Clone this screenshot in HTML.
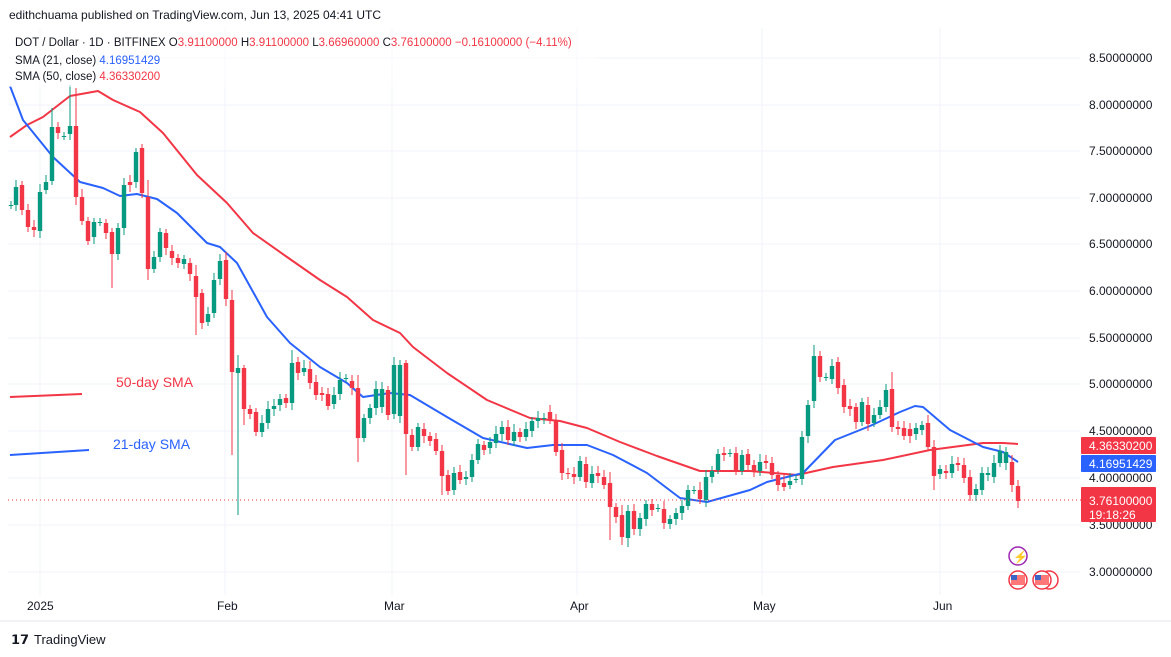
<!DOCTYPE html>
<html><head><meta charset="utf-8"><style>
body{margin:0;background:#fff;width:1171px;height:657px;overflow:hidden;font-family:"Liberation Sans",sans-serif}
svg{position:absolute;left:0;top:0}
</style></head><body>
<svg id="s" width="1171" height="657" xmlns="http://www.w3.org/2000/svg" font-family="Liberation Sans, sans-serif">
<text x="9" y="19" font-size="12" fill="#131722">edithchuama published on TradingView.com, Jun 13, 2025 04:41 UTC</text>
<g id="grid" stroke="#f0f3fa" stroke-width="1"></g>
<g id="sma"></g>
<g id="c"></g>
<line x1="8" y1="500" x2="1082" y2="500" stroke="#f23645" stroke-width="1" stroke-dasharray="1,3"/>
<polyline points="10,397 82,394" fill="none" stroke="#f23645" stroke-width="2"/>
<polyline points="10,455 89,450" fill="none" stroke="#2962ff" stroke-width="2"/>
<text x="116" y="387" font-size="14" fill="#f23645">50-day SMA</text>
<text x="113" y="449" font-size="14" fill="#2962ff">21-day SMA</text>
<rect x="8" y="29" width="590" height="58" fill="#fff" opacity="0.6"/>
<text x="15" y="46" font-size="11.5" fill="#131722">DOT / Dollar · 1D · BITFINEX  <tspan>O</tspan><tspan fill="#f23645">3.91100000</tspan> H<tspan fill="#f23645">3.91100000</tspan> L<tspan fill="#f23645">3.66960000</tspan> C<tspan fill="#f23645">3.76100000 −0.16100000 (−4.11%)</tspan></text>
<text x="15" y="64" font-size="11.5" fill="#131722">SMA (21, close)  <tspan fill="#2962ff">4.16951429</tspan></text>
<text x="15" y="80" font-size="11.5" fill="#131722">SMA (50, close)  <tspan fill="#f23645">4.36330200</tspan></text>
<g id="ax" font-size="12" fill="#131722"></g>
<rect x="1081" y="437" width="75" height="17" fill="#f23645" rx="1"/>
<text x="1089" y="450" font-size="12" fill="#fff">4.36330200</text>
<rect x="1081" y="455" width="75" height="17" fill="#2962ff" rx="1"/>
<text x="1089" y="468" font-size="12" fill="#fff">4.16951429</text>
<rect x="1081" y="487" width="75" height="35" fill="#f23645" rx="1"/>
<text x="1089" y="505" font-size="12" fill="#fff">3.76100000</text>
<text x="1089" y="519" font-size="12" fill="#fff">19:18:26</text>
<circle cx="1018" cy="556" r="9" fill="#fff" stroke="#9c27b0" stroke-width="1.5"/>
<text x="1013" y="561" font-size="12" fill="#9c27b0">⚡</text>
<circle cx="1018" cy="580" r="9" fill="#fff" stroke="#f23645" stroke-width="1.5"/>
<rect x="1011" y="575" width="14" height="10" fill="#f77"/><rect x="1011" y="575" width="6" height="5" fill="#3b62c4"/>
<circle cx="1049" cy="580" r="9" fill="#fff" stroke="#f23645" stroke-width="1.5"/>
<circle cx="1042" cy="580" r="9" fill="#fff" stroke="#f23645" stroke-width="1.5"/>
<rect x="1035" y="575" width="14" height="10" fill="#f77"/><rect x="1035" y="575" width="6" height="5" fill="#3b62c4"/>
<g font-size="12" fill="#131722">
<text x="27" y="610">2025</text><text x="217" y="610">Feb</text><text x="384" y="610">Mar</text><text x="570" y="610">Apr</text><text x="753" y="610">May</text><text x="933" y="610">Jun</text>
</g>
<line x1="0" y1="621" x2="1171" y2="621" stroke="#e0e3eb"/>
<text x="11" y="644" font-size="13" font-weight="bold" fill="#131722">𝟭𝟳</text>
<text x="34" y="644" font-size="13" fill="#131722">TradingView</text>
</svg>
<script>
var NS="http://www.w3.org/2000/svg";
function el(p,t,a){var e=document.createElementNS(NS,t);for(var k in a)e.setAttribute(k,a[k]);document.getElementById(p).appendChild(e);return e;}
var ys=[58,105,151,198,244,291,338,384,431,478,525,572];
var lab=["8.50000000","8.00000000","7.50000000","7.00000000","6.50000000","6.00000000","5.50000000","5.00000000","4.50000000","4.00000000","3.50000000","3.00000000"];
ys.forEach(function(y,i){el("grid","line",{x1:8,x2:1080,y1:y,y2:y});var t=el("ax","text",{x:1089,y:y+4});t.textContent=lab[i];});
[40,225,392,577,762,940].forEach(function(x){el("grid","line",{x1:x,x2:x,y1:28,y2:595});});
var d=[[11,205,205],[16,205,187],[22,185,210],[28,210,227],[34,227,230],[40,231,192],[46,190,182],[52,181,127],[58,127,133],[64,136,136],[70,134,126],[76,126,197],[82,197,221],[88,221,241],[94,237,222],[100,222,222],[106,223,233],[112,232,254],[118,254,228],[124,228,185],[130,182,185],[136,182,152],[142,148,193],[148,197,269],[154,269,257],[160,257,232],[166,233,248],[172,251,258],[178,258,263],[184,264,259],[190,263,274],[196,276,297],[202,293,323],[208,322,314],[214,313,280],[220,279,261],[226,260,299],[232,300,372],[238,373,368],[244,368,409],[250,409,414],[256,412,432],[262,432,423],[268,423,409],[274,409,406],[280,405,399],[286,398,403],[292,403,363],[298,362,373],[304,372,368],[310,369,383],[316,382,395],[322,393,395],[328,394,406],[334,404,395],[340,394,380],[346,378,378],[352,381,388],[358,388,438],[364,438,418],[370,418,408],[376,408,389],[382,407,389],[388,390,415],[394,414,365],[400,416,365],[406,363,434],[412,435,447],[418,447,427],[424,429,436],[430,436,441],[436,439,451],[442,451,476],[448,475,491],[454,490,473],[460,472,480],[466,479,477],[472,477,460],[478,460,444],[484,445,450],[490,448,442],[496,443,434],[502,434,427],[508,427,440],[514,441,432],[520,432,437],[526,437,429],[532,431,421],[538,421,418],[544,419,418],[550,412,420],[556,420,452],[562,450,473],[568,473,474],[574,474,477],[580,477,461],[586,464,482],[592,483,474],[598,473,476],[604,477,485],[610,483,507],[616,507,517],[622,515,537],[628,538,511],[634,511,529],[640,529,518],[646,519,504],[652,504,510],[658,508,508],[664,509,523],[670,524,519],[676,519,513],[682,513,506],[688,506,490],[694,490,490],[700,490,499],[706,500,477],[712,477,471],[718,470,454],[724,453,455],[730,453,453],[736,453,470],[742,471,455],[748,454,465],[754,465,471],[760,471,462],[766,461,463],[772,463,475],[778,475,485],[784,483,487],[790,485,481],[796,479,479],[802,479,437],[808,436,405],[814,401,356],[820,356,377],[826,377,377],[832,379,366],[838,362,388],[844,385,407],[850,406,409],[856,407,422],[862,422,402],[868,405,424],[874,423,415],[880,415,407],[886,407,390],[892,389,427],[898,427,429],[904,428,436],[910,429,436],[916,434,428],[922,430,425],[928,423,447],[934,447,476],[940,474,469],[946,471,473],[952,473,464],[958,463,465],[964,465,478],[970,477,495],[976,495,489],[982,490,473],[988,475,473],[994,477,463],[1000,463,451],[1006,463,452],[1012,462,485],[1018,486,501]];
var wick={238:[355,515],76:[88,205],70:[85,140],52:[108,185],148:[180,280],232:[290,455],292:[350,410],358:[375,462],406:[360,475],442:[445,495],610:[472,540],622:[505,545],628:[505,547],814:[345,408],892:[372,432],934:[440,490],1018:[480,508],112:[228,288],196:[265,335],244:[365,425]};
d.forEach(function(c){var x=c[0],o=c[1],cl=c[2],up=cl<=o,col=up?"#089981":"#f23645";
var hi=Math.min(o,cl)-4-(Math.abs(o-cl)%5),lo=Math.max(o,cl)+4+(Math.abs(o-cl)%4);
if(wick[x]){hi=wick[x][0];lo=wick[x][1];}
el("c","line",{x1:x,x2:x,y1:hi,y2:lo,stroke:col,"stroke-width":1});
el("c","rect",{x:x-2.2,y:Math.min(o,cl),width:4.4,height:Math.max(1,Math.abs(o-cl)),fill:col});});
var blue="10,86 23,120 53,157 80,182 103,188 120,196 137,194 157,199 177,213 207,243 220,247 237,263 267,317 290,343 320,367 347,383 363,397 390,393 410,395 447,417 483,438 527,448 553,445 587,445 613,455 647,473 680,498 707,502 750,490 767,482 803,473 835,440 870,426 900,412 915,406 923,407 950,430 983,447 1003,452 1018,462";
var red="10,137 27,125 43,117 70,96 98,91 113,100 140,112 163,133 197,175 227,203 253,233 287,257 320,280 347,297 373,320 400,333 413,347 447,373 487,400 530,418 560,421 587,428 620,442 657,456 700,471 750,471 797,475 833,467 883,460 930,450 983,443 1003,443 1018,444";
el("sma","polyline",{points:red,fill:"none",stroke:"#f23645","stroke-width":2,"stroke-linejoin":"round"});
el("sma","polyline",{points:blue,fill:"none",stroke:"#2962ff","stroke-width":2,"stroke-linejoin":"round"});
</script>
</body></html>
